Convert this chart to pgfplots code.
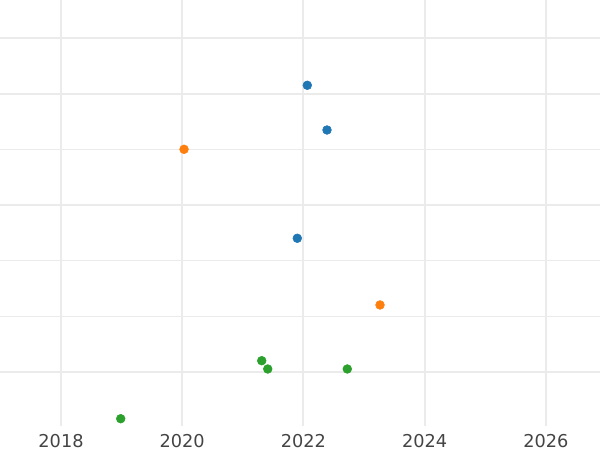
\documentclass[border=0pt]{standalone}
\usepackage{fontspec}
\setmainfont{DejaVu Sans}
\usepackage{pgfplots}
\pgfplotsset{compat=1.18}
\definecolor{gridc}{RGB}{235,235,235}
\definecolor{tickc}{RGB}{68,68,68}
\definecolor{cblue}{RGB}{31,119,180}
\definecolor{corange}{RGB}{255,127,14}
\definecolor{cgreen}{RGB}{44,160,44}
\begin{document}
\begin{tikzpicture}
\begin{axis}[
  scale only axis,
  width=450pt, height=319.5pt,
  xmin=2016.993, xmax=2026.894,
  ymin=-0.970, ymax=6.682,
  axis line style={draw=none},
  xtick={2018,2020,2022,2024,2026},
  xticklabels={2018,2020,2022,2024,2026},
  ytick={0,3,5,6},
  minor ytick={1,2,4},
  yticklabels={},
  major tick length=0pt, minor tick length=0pt,
  tick style={draw=none},
  xmajorgrids, ymajorgrids, yminorgrids,
  major grid style={draw=gridc, line width=1.5pt},
  minor grid style={draw=gridc, line width=0.75pt},
  xticklabel style={font=\fontsize{13.3}{16}\selectfont, text=tickc, inner sep=0pt, anchor=north, yshift=-6pt},
  /pgf/number format/assume math mode=true,
  clip=false,
]
\addplot[only marks, mark=*, mark size=3.3pt, color=cblue, mark options={draw=cblue, fill=cblue}] coordinates {
  (2022.064,5.150) (2022.389,4.347) (2021.899,2.402)
};
\addplot[only marks, mark=*, mark size=3.3pt, color=corange, mark options={draw=corange, fill=corange}] coordinates {
  (2020.030,4.000) (2023.264,1.204)
};
\addplot[only marks, mark=*, mark size=3.3pt, color=cgreen, mark options={draw=cgreen, fill=cgreen}] coordinates {
  (2018.985,-0.839) (2021.312,0.203) (2021.411,0.054) (2022.724,0.054)
};
\end{axis}
\pgfresetboundingbox
\useasboundingbox (0,-18pt) rectangle (450pt,319.5pt);
\end{tikzpicture}
\end{document}
